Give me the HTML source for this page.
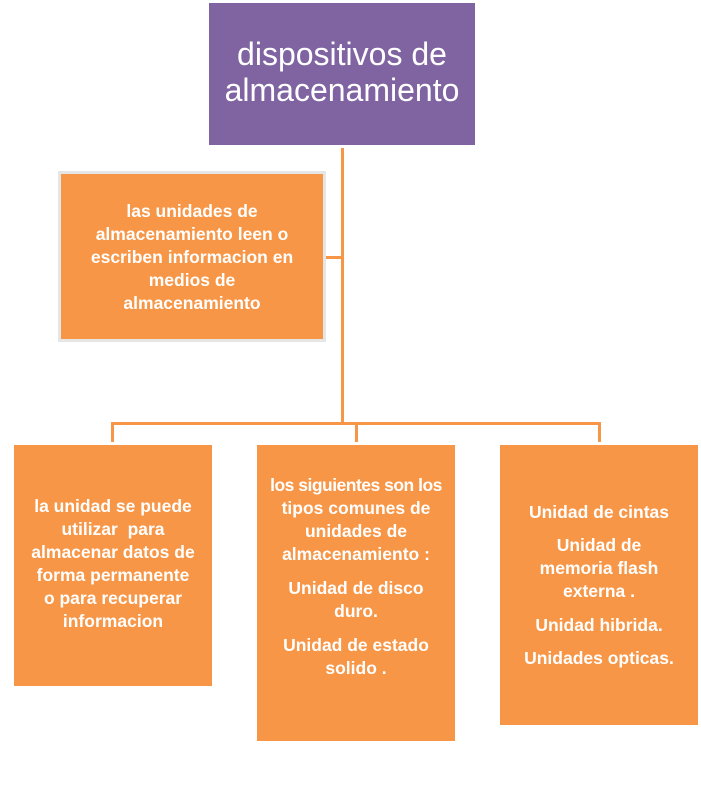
<!DOCTYPE html>
<html><head><meta charset="utf-8"><style>
body{margin:0;width:701px;height:789px;background:#fff;position:relative;overflow:hidden;font-family:"Liberation Sans",sans-serif;}
.b{position:absolute;background:#f79646;}
.l{position:absolute;background:#f79646;}
.t{position:absolute;left:-10px;right:-10px;text-align:center;color:#fff;white-space:nowrap;font-size:17.5px;font-weight:bold;line-height:20px;}
.p{position:absolute;left:209px;top:3px;width:266px;height:142px;background:#8064a2;}
.p .t{font-size:32px;font-weight:normal;line-height:36px;}
</style></head><body>
<div class="p"><div class="t" style="top:33px">dispositivos de</div><div class="t" style="top:69px">almacenamiento</div></div>

<div class="l" style="left:341px;top:148px;width:3px;height:277px"></div>
<div class="l" style="left:325px;top:256px;width:17px;height:3px"></div>
<div class="l" style="left:111px;top:422px;width:490px;height:3px"></div>
<div class="l" style="left:111px;top:422px;width:3px;height:20px"></div>
<div class="l" style="left:355px;top:422px;width:3px;height:20px"></div>
<div class="l" style="left:598px;top:422px;width:3px;height:20px"></div>

<div class="b" style="left:58px;top:171px;width:262px;height:165px;border:3px solid #e6e6e6">
<div class="t" style="top:27px">las unidades de</div>
<div class="t" style="top:50px">almacenamiento leen o</div>
<div class="t" style="top:73px">escriben informacion en</div>
<div class="t" style="top:96px">medios de</div>
<div class="t" style="top:119px">almacenamiento</div>
</div>

<div class="b" style="left:14px;top:445px;width:198px;height:241px">
<div class="t" style="top:51px">la unidad se puede</div>
<div class="t" style="top:74px">utilizar &nbsp;para</div>
<div class="t" style="top:97px">almacenar datos de</div>
<div class="t" style="top:120px">forma permanente</div>
<div class="t" style="top:143px">o para recuperar</div>
<div class="t" style="top:166px">informacion</div>
</div>

<div class="b" style="left:257px;top:445px;width:198px;height:296px">
<div class="t" style="top:30px;letter-spacing:-0.5px">los siguientes son los</div>
<div class="t" style="top:53px">tipos comunes de</div>
<div class="t" style="top:76px">unidades de</div>
<div class="t" style="top:99px">almacenamiento :</div>
<div class="t" style="top:133px">Unidad de disco</div>
<div class="t" style="top:156px">duro.</div>
<div class="t" style="top:190px">Unidad de estado</div>
<div class="t" style="top:213px">solido .</div>
</div>

<div class="b" style="left:500px;top:445px;width:198px;height:280px">
<div class="t" style="top:57px">Unidad de cintas</div>
<div class="t" style="top:90px">Unidad de</div>
<div class="t" style="top:113px">memoria flash</div>
<div class="t" style="top:136px">externa .</div>
<div class="t" style="top:170px">Unidad hibrida.</div>
<div class="t" style="top:203px">Unidades opticas.</div>
</div>
</body></html>
